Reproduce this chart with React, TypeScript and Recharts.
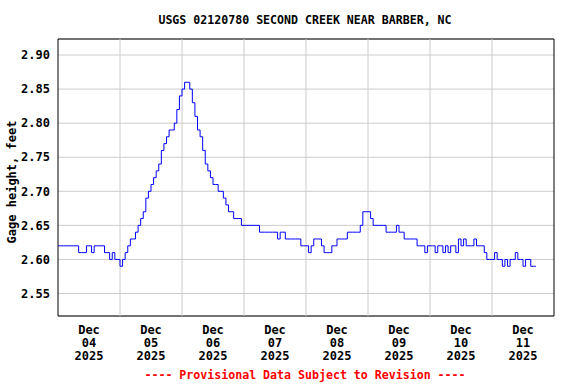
import React from "react";
import { LineChart, Line, XAxis, YAxis, CartesianGrid, ReferenceLine, ReferenceArea } from "recharts";

// hourly gage height readings (feet), one array per day, hour 0 = midnight
const dec04 = [2.62, 2.62, 2.62, 2.62, 2.62, 2.62, 2.62, 2.62, 2.61, 2.61, 2.61, 2.62, 2.62, 2.61, 2.62, 2.62, 2.62, 2.62, 2.61, 2.61, 2.6, 2.61, 2.6, 2.6];
const dec05 = [2.59, 2.6, 2.61, 2.62, 2.63, 2.63, 2.64, 2.65, 2.66, 2.67, 2.69, 2.7, 2.71, 2.72, 2.73, 2.74, 2.76, 2.77, 2.78, 2.79, 2.79, 2.8, 2.82, 2.84];
const dec06 = [2.85, 2.86, 2.86, 2.85, 2.83, 2.81, 2.79, 2.78, 2.76, 2.74, 2.73, 2.72, 2.71, 2.71, 2.7, 2.7, 2.69, 2.68, 2.67, 2.67, 2.66, 2.66, 2.66, 2.65];
const dec07 = [2.65, 2.65, 2.65, 2.65, 2.65, 2.65, 2.64, 2.64, 2.64, 2.64, 2.64, 2.64, 2.64, 2.63, 2.64, 2.64, 2.63, 2.63, 2.63, 2.63, 2.63, 2.63, 2.62, 2.62];
const dec08 = [2.62, 2.61, 2.62, 2.63, 2.63, 2.63, 2.62, 2.61, 2.61, 2.61, 2.62, 2.62, 2.63, 2.63, 2.63, 2.63, 2.64, 2.64, 2.64, 2.64, 2.64, 2.65, 2.67, 2.67];
const dec09 = [2.67, 2.66, 2.65, 2.65, 2.65, 2.65, 2.65, 2.64, 2.64, 2.64, 2.64, 2.65, 2.64, 2.64, 2.63, 2.63, 2.63, 2.63, 2.63, 2.62, 2.62, 2.62, 2.61, 2.62];
const dec10 = [2.62, 2.62, 2.61, 2.62, 2.62, 2.61, 2.62, 2.61, 2.62, 2.62, 2.61, 2.63, 2.62, 2.63, 2.62, 2.62, 2.62, 2.63, 2.62, 2.62, 2.62, 2.61, 2.6, 2.6];
const dec11 = [2.6, 2.61, 2.6, 2.6, 2.59, 2.6, 2.59, 2.6, 2.6, 2.61, 2.6, 2.6, 2.59, 2.6, 2.6, 2.59, 2.59, 2.59];

const dayLabels = ["04", "05", "06", "07", "08", "09", "10", "11"];
const yTicks = [2.55, 2.6, 2.65, 2.7, 2.75, 2.8, 2.85, 2.9];
const yDomain = [2.517, 2.9235];

const levels = [...dec04, ...dec05, ...dec06, ...dec07, ...dec08, ...dec09, ...dec10, ...dec11];
const data = levels.map((v, i) => ({ h: i, v }));
const labelHours = dayLabels.map((_, i) => i * 24 + 12);
const midnights = dayLabels.slice(1).map((_, i) => (i + 1) * 24);

const font = "'DejaVu Sans Mono', monospace";

const DayTick = (props: any) => {
  const { x, y, payload } = props;
  const idx = labelHours.indexOf(payload.value);
  return (
    <text x={x} textAnchor="middle" fontFamily={font} fontWeight="bold" fontSize={12} fill="#000">
      <tspan x={x} y={y + 18}>Dec</tspan>
      <tspan x={x} y={y + 31}>{dayLabels[idx]}</tspan>
      <tspan x={x} y={y + 44}>2025</tspan>
    </text>
  );
};

const txt: React.CSSProperties = {
  position: "absolute",
  fontFamily: font,
  fontWeight: "bold",
  fontSize: 12,
  lineHeight: "14px",
  whiteSpace: "nowrap",
};

export default function App() {
  return (
    <div style={{ position: "absolute", left: 0, top: 0, width: 576, height: 384, background: "#fff" }}>
      <div style={{ ...txt, fontSize: 11.6, left: 0, width: 610, top: 13, textAlign: "center" }}>
        USGS 02120780 SECOND CREEK NEAR BARBER, NC
      </div>
      <div style={{ ...txt, left: 12, top: 182, transform: "translate(-50%, -50%) rotate(-90deg)" }}>
        Gage height, feet
      </div>
      <div style={{ ...txt, fontSize: 11.6, left: 0, width: 610, top: 368, textAlign: "center", color: "#ff0000" }}>
        ---- Provisional Data Subject to Revision ----
      </div>
      <LineChart width={576} height={384} data={data} margin={{ top: 39, right: 22, left: 0, bottom: 0 }}>
        <CartesianGrid vertical={false} stroke="#cccccc" />
        {midnights.map((m) => (
          <ReferenceLine key={m} x={m} stroke="#cccccc" />
        ))}
        <XAxis
          dataKey="h"
          type="number"
          domain={[0, 192]}
          ticks={labelHours}
          tick={<DayTick />}
          tickLine={false}
          axisLine={false}
          tickSize={0}
          tickMargin={0}
          height={68}
          interval={0}
        />
        <YAxis
          type="number"
          domain={yDomain}
          ticks={yTicks}
          tickFormatter={(v: number) => v.toFixed(2)}
          tick={{ fontFamily: font, fontWeight: "bold", fontSize: 12, fill: "#000" }}
          tickLine={false}
          axisLine={false}
          tickSize={0}
          tickMargin={8}
          width={58}
          allowDataOverflow
        />
        <Line
          type="stepAfter"
          dataKey="v"
          stroke="#0000ff"
          strokeWidth={1}
          dot={false}
          isAnimationActive={false}
        />
        <ReferenceArea x1={0} x2={192} y1={yDomain[0]} y2={yDomain[1]} fill="none" stroke="#000" strokeWidth={1} />
      </LineChart>
    </div>
  );
}
